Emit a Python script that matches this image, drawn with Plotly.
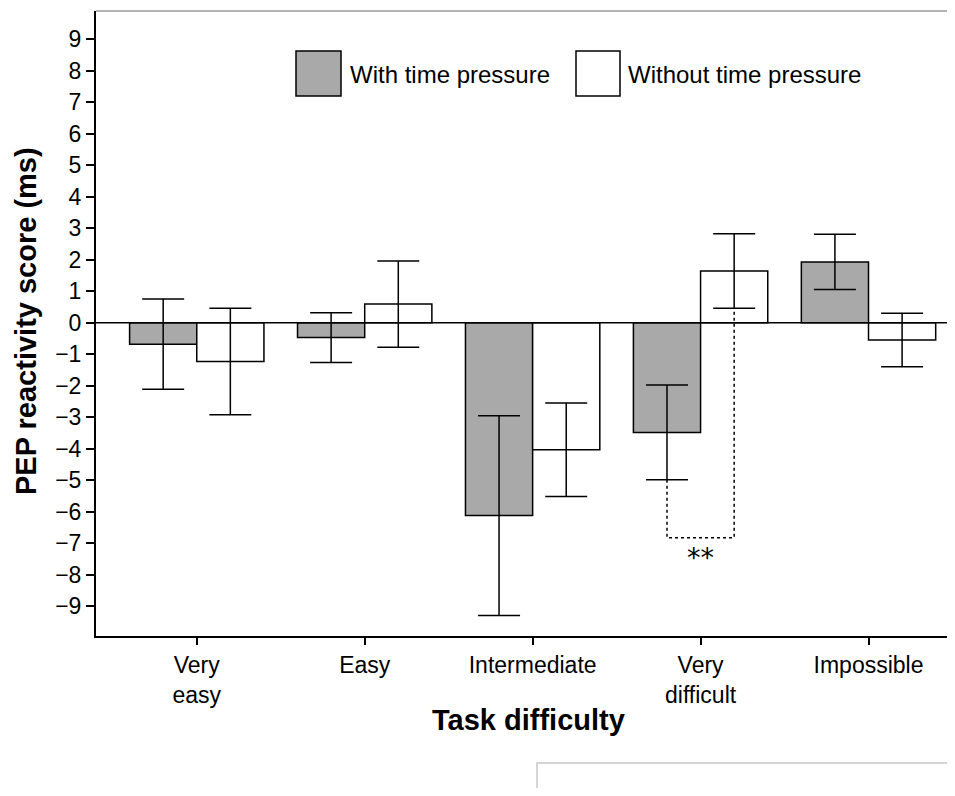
import plotly.graph_objects as go

# ---- data ----
categories = ["Very<br>easy", "Easy", "Intermediate", "Very<br>difficult", "Impossible"]
with_tp = [-0.68, -0.47, -6.12, -3.48, 1.93]
with_tp_err = [1.43, 0.79, 3.17, 1.50, 0.88]
without_tp = [-1.23, 0.59, -4.03, 1.64, -0.55]
without_tp_err = [1.69, 1.37, 1.48, 1.18, 0.85]
series_names = ["With time pressure", "Without time pressure"]
y_ticks = list(range(-9, 10))
sig_category = 3          # "Very difficult"
sig_bracket_y = -6.82
sig_label = "**"

# ---- layout geometry (page has an 8px body margin) ----
PAGE = 8
W, H = 955 - PAGE, 796 - 2 * PAGE
ML, MR, MT, MB = 96 - PAGE, 0, 11 - PAGE, 160 - PAGE
PW, PH = W - ML - MR, H - MT - MB

def px(x):   # reference page pixel -> paper x
    return (x - PAGE - ML) / PW

def py(y):   # reference page pixel -> paper y
    return (H - MB - (y - PAGE)) / PH

FONT = "Liberation Sans, Arial, sans-serif"
GRAY = "#a9a9a9"

fig = go.Figure()
fig.add_trace(go.Bar(
    x=list(range(len(categories))), y=with_tp, name=series_names[0],
    marker=dict(color=GRAY, line=dict(color="black", width=1.5)),
    error_y=dict(type="data", array=with_tp_err, color="black", thickness=1.5, width=21),
))
fig.add_trace(go.Bar(
    x=list(range(len(categories))), y=without_tp, name=series_names[1],
    marker=dict(color="white", line=dict(color="black", width=1.5)),
    error_y=dict(type="data", array=without_tp_err, color="black", thickness=1.5, width=21),
))

shapes = []
# zero line
shapes.append(dict(type="line", xref="paper", yref="y", x0=0, x1=1, y0=0, y1=0,
                   line=dict(color="black", width=1.5)))
# top border (light gray)
shapes.append(dict(type="line", xref="paper", yref="paper", x0=0, x1=1, y0=1, y1=1,
                   line=dict(color="#9a9a9a", width=1.5)))
# significance bracket
off = 0.2
xl, xr = sig_category - off, sig_category + off
yl = with_tp[sig_category] - with_tp_err[sig_category]
yr = without_tp[sig_category] - without_tp_err[sig_category]
shapes.append(dict(type="path", xref="x", yref="y",
                   path=f"M {xl},{yl} L {xl},{sig_bracket_y} L {xr},{sig_bracket_y} L {xr},{yr}",
                   line=dict(color="black", width=1.5, dash="dot")))

# custom legend
legend_items = [
    (series_names[0], GRAY, 296, 341, 348),
    (series_names[1], "white", 576, 620, 626),
]
annotations = []
for name, col, x0, x1, tx in legend_items:
    shapes.append(dict(type="rect", xref="paper", yref="paper",
                       x0=px(x0), x1=px(x1), y0=py(96), y1=py(51),
                       fillcolor=col, line=dict(color="black", width=1.5)))
    annotations.append(dict(text=name, xref="paper", yref="paper", x=px(tx), y=py(74),
                            xanchor="left", yanchor="middle", showarrow=False,
                            font=dict(family=FONT, size=24, color="black")))

# faint box bottom right
shapes.append(dict(type="rect", xref="paper", yref="paper",
                   x0=px(537), x1=px(970), y0=py(763), y1=py(815),
                   line=dict(color="#c8c8c8", width=1.5), fillcolor="rgba(0,0,0,0)"))

annotations.append(dict(text=sig_label, xref="x", yref="y", x=sig_category, y=sig_bracket_y,
                        xanchor="center", yanchor="top", yshift=-2, showarrow=False,
                        font=dict(family="DejaVu Sans, sans-serif", size=27, color="black")))
# axis titles
annotations.append(dict(text="<b>PEP reactivity score (ms)</b>", xref="paper", yref="paper",
                        x=px(26), y=py(321), textangle=-90, xanchor="center", yanchor="middle",
                        showarrow=False, font=dict(family=FONT, size=29, color="black")))
annotations.append(dict(text="<b>Task difficulty</b>", xref="paper", yref="paper",
                        x=px(528), y=py(720), xanchor="center", yanchor="middle",
                        showarrow=False, font=dict(family=FONT, size=29, color="black")))

fig.update_layout(
    width=W, height=H,
    margin=dict(l=ML, r=MR, t=MT, b=MB),
    paper_bgcolor="white", plot_bgcolor="white",
    barmode="group", bargap=0.2, bargroupgap=0,
    showlegend=False,
    shapes=shapes, annotations=annotations,
    font=dict(family=FONT, color="black"),
    xaxis=dict(
        tickmode="array", tickvals=list(range(len(categories))), ticktext=categories,
        range=[-0.6, 4.515], showgrid=False, zeroline=False,
        showline=True, linecolor="black", linewidth=2,
        ticks="outside", ticklen=7, tickwidth=2, tickcolor="black",
        tickfont=dict(family=FONT, size=23, color="black"),
    ),
    yaxis=dict(
        tickmode="array", tickvals=y_ticks,
        range=[-9.94, 9.89], showgrid=False, zeroline=False,
        showline=True, linecolor="black", linewidth=2,
        ticks="outside", ticklen=8, tickwidth=2, tickcolor="black",
        tickfont=dict(family=FONT, size=23, color="black"),
    ),
)

fig.write_html("out.html")
